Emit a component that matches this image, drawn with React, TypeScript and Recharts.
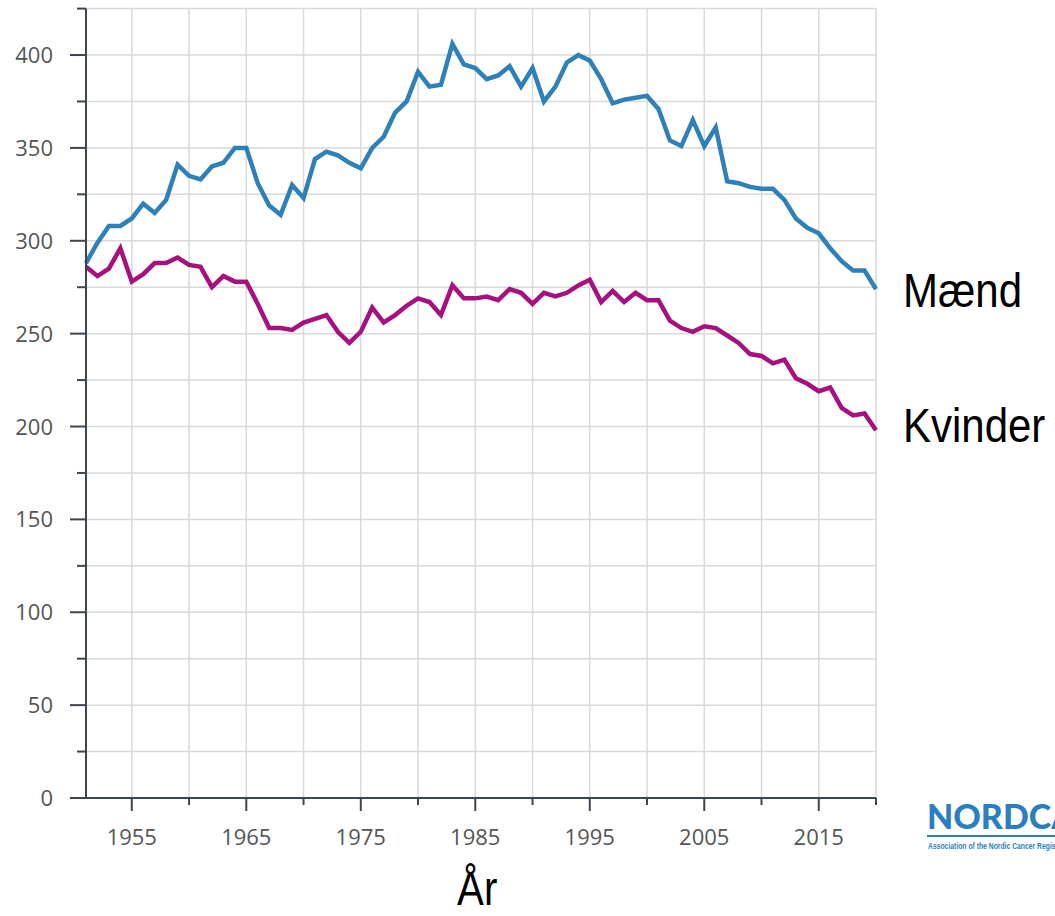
import React from 'react';
import { LineChart, Line, XAxis, YAxis, CartesianGrid, Label } from 'recharts';

// Incidence per year
const years = [
  1951, 1952, 1953, 1954, 1955, 1956, 1957, 1958, 1959, 1960,
  1961, 1962, 1963, 1964, 1965, 1966, 1967, 1968, 1969, 1970,
  1971, 1972, 1973, 1974, 1975, 1976, 1977, 1978, 1979, 1980,
  1981, 1982, 1983, 1984, 1985, 1986, 1987, 1988, 1989, 1990,
  1991, 1992, 1993, 1994, 1995, 1996, 1997, 1998, 1999, 2000,
  2001, 2002, 2003, 2004, 2005, 2006, 2007, 2008, 2009, 2010,
  2011, 2012, 2013, 2014, 2015, 2016, 2017, 2018, 2019, 2020,
];

const maend = [
  288, 299, 308, 308, 312, 320, 315, 322, 341, 335,
  333, 340, 342, 350, 350, 331, 319, 314, 330, 323,
  344, 348, 346, 342, 339, 350, 356, 369, 375, 391,
  383, 384, 406, 395, 393, 387, 389, 394, 383, 393,
  375, 383, 396, 400, 397, 387, 374, 376, 377, 378,
  371, 354, 351, 365, 351, 361, 332, 331, 329, 328,
  328, 322, 312, 307, 304, 296, 289, 284, 284, 274,
];

const kvinder = [
  286, 281, 285, 296, 278, 282, 288, 288, 291, 287,
  286, 275, 281, 278, 278, 266, 253, 253, 252, 256,
  258, 260, 251, 245, 251, 264, 256, 260, 265, 269,
  267, 260, 276, 269, 269, 270, 268, 274, 272, 266,
  272, 270, 272, 276, 279, 267, 273, 267, 272, 268,
  268, 257, 253, 251, 254, 253, 249, 245, 239, 238,
  234, 236, 226, 223, 219, 221, 210, 206, 207, 198,
];

const yTicks = [0, 25, 50, 75, 100, 125, 150, 175, 200, 225, 250, 275, 300, 325, 350, 375, 400, 425];
const xTicks = [1955, 1960, 1965, 1970, 1975, 1980, 1985, 1990, 1995, 2000, 2005, 2010, 2015, 2020];
const labeledYears = [1955, 1965, 1975, 1985, 1995, 2005, 2015];

const data = years.map((year, i) => ({ year, maend: maend[i], kvinder: kvinder[i] }));

const AXIS = '#3d4650';
const TICK_TEXT = '#555';
const TICK_FONT = "'Open Sans', 'Noto Sans', sans-serif";
const LABEL_FONT = "'Liberation Sans Narrow', 'Liberation Sans', Arial, sans-serif";

const YTick = (props: any) => {
  const { x, y, payload } = props;
  const major = payload.value % 50 === 0;
  return (
    <g>
      <line x1={x - (major ? 16 : 9)} x2={x} y1={y} y2={y} stroke={AXIS} strokeWidth={2} />
      {major && (
        <text x={x - 33} y={y + 8} textAnchor="end" fontSize={22} fontFamily={TICK_FONT} fill={TICK_TEXT}>
          {payload.value}
        </text>
      )}
    </g>
  );
};

const XTick = (props: any) => {
  const { x, y, payload } = props;
  const major = labeledYears.includes(payload.value);
  return (
    <g>
      <line x1={x} x2={x} y1={y} y2={y + (major ? 13 : 7)} stroke={AXIS} strokeWidth={2} />
      {major && (
        <text x={x} y={y + 47} textAnchor="middle" fontSize={22} fontFamily={TICK_FONT} fill={TICK_TEXT}>
          {payload.value}
        </text>
      )}
    </g>
  );
};

// narrow look: squeeze the text horizontally
const NarrowText = ({ x, y, size, sx, children }: any) => (
  <text
    transform={`translate(${x},${y}) scale(${sx},1)`}
    fontSize={size}
    fontFamily={LABEL_FONT}
    fill="#000"
  >
    {children}
  </text>
);

// name at the end of a line
const endLabel = (name: string, dy: number) => (props: any) => {
  if (props.index !== data.length - 1) return null;
  return (
    <NarrowText x={props.x + 27} y={props.y + dy} size={48} sx={0.875}>
      {name}
    </NarrowText>
  );
};

export default function App() {
  return (
    <div style={{ position: 'absolute', left: 0, top: 0, width: 1055, height: 916, background: '#fff' }}>
      <LineChart
        width={1055}
        height={916}
        data={data}
        margin={{ top: 8.6, right: 179, bottom: 78, left: 26 }}
      >
        <CartesianGrid stroke="#d9d9d9" strokeWidth={1.5} />
        <XAxis
          dataKey="year"
          type="number"
          domain={[1951, 2020]}
          ticks={xTicks}
          interval={0}
          height={40}
          tickSize={0}
          tickMargin={0}
          tickLine={false}
          axisLine={{ stroke: AXIS, strokeWidth: 2 }}
          tick={<XTick />}
        >
          <Label
            content={(p: any) => {
              const vb = p.viewBox;
              return (
                <NarrowText x={vb.x + vb.width / 2 - 24} y={905} size={48} sx={0.84}>
                  År
                </NarrowText>
              );
            }}
          />
        </XAxis>
        <YAxis
          type="number"
          domain={[0, 425]}
          ticks={yTicks}
          interval={0}
          width={60}
          tickSize={0}
          tickMargin={0}
          tickLine={false}
          axisLine={{ stroke: AXIS, strokeWidth: 2 }}
          tick={<YTick />}
        />
        <Line
          dataKey="maend"
          stroke="#2E80B8"
          strokeWidth={4.5}
          dot={false}
          activeDot={false}
          isAnimationActive={false}
          label={endLabel('Mænd', 18)}
        />
        <Line
          dataKey="kvinder"
          stroke="#A6117E"
          strokeWidth={4.5}
          dot={false}
          activeDot={false}
          isAnimationActive={false}
          label={endLabel('Kvinder', 11.5)}
        />
      </LineChart>
      {/* NORDCAN logo, cut off by the right edge as in the original */}
      <svg
        width={1055}
        height={916}
        style={{ position: 'absolute', left: 0, top: 0, pointerEvents: 'none' }}
      >
        <text x={927} y={829} fontSize={34} fontWeight={900} fontFamily="Lato, 'Open Sans', sans-serif" fill="#2A7FC1">
          NORDCAN
        </text>
        <line x1={927} x2={1055} y1={836} y2={836} stroke="#2A7FC1" strokeWidth={2} />
        <text
          transform="translate(928,849) scale(0.8,1)"
          fontSize={8.5}
          fontWeight={700}
          fontFamily={LABEL_FONT}
          fill="#2A7FC1"
        >
          Association of the Nordic Cancer Registries
        </text>
      </svg>
    </div>
  );
}
